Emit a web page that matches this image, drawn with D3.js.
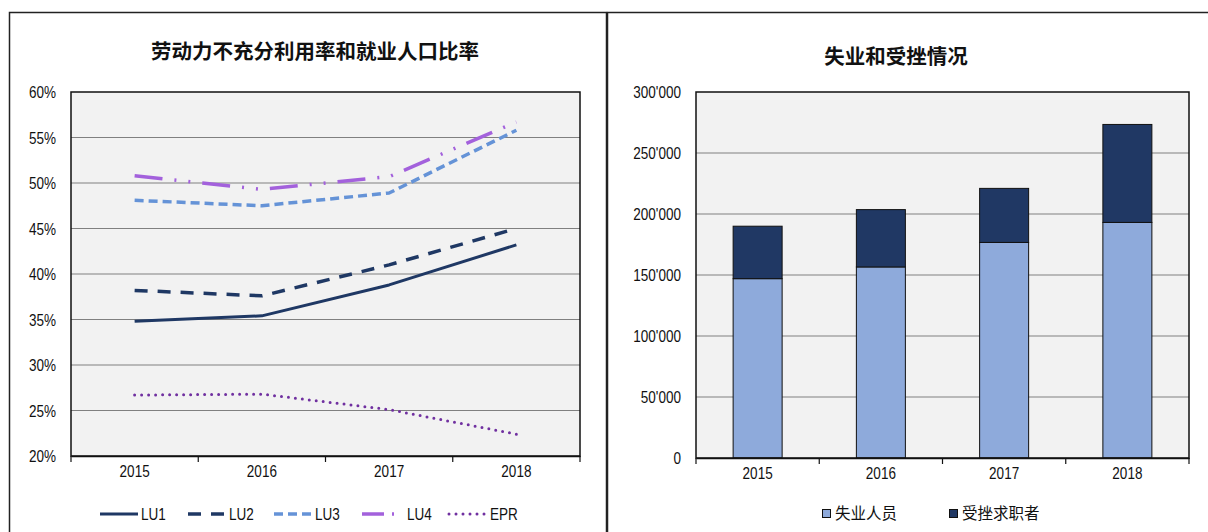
<!DOCTYPE html>
<html><head><meta charset="utf-8">
<script src="https://cdn.jsdelivr.net/npm/d3@7/dist/d3.min.js"></script>
<style>
body{margin:0;background:#fff;}
svg{display:block;font-family:"Liberation Sans",Arial,sans-serif;}
.cjk{font-family:"Noto Sans CJK SC","Noto Sans",sans-serif;}
</style></head>
<body><svg id="c" width="1208" height="532"></svg>
<script>
const years = ["2015","2016","2017","2018"];
const lu1 = [34.8,35.4,38.8,43.2];
const lu2 = [38.2,37.6,41.0,45.0];
const lu3 = [48.1,47.5,48.9,55.8];
const lu4 = [50.8,49.3,50.7,56.7];
const epr = [26.7,26.8,25.1,22.4];
const pctTicks = [20,25,30,35,40,45,50,55,60];
const unemployed = [147000,156600,176700,193100];
const discouraged = [43000,47000,44300,80300];
const countTicks = [0,50000,100000,150000,200000,250000,300000];
const leftTitle = "劳动力不充分利用率和就业人口比率";
const rightTitle = "失业和受挫情况";
const barNames = ["失业人员","受挫求职者"];

const svg = d3.select("#c");
const navy="#1f3864", lblue="#6593d7", lpurple="#a361dc", dpurple="#7030a0";
const barLight="#8eaadb";
const FS = 16.5, SX = 0.82;

function narrow(sel){
  sel.each(function(){
    const t = d3.select(this);
    const x = +(t.attr("x")||0), y = +(t.attr("y")||0);
    t.attr("x",0).attr("y",0).attr("transform",`translate(${x},${y}) scale(${SX},1)`);
  });
}

// frames
svg.append("rect").attr("x",9.5).attr("y",12.5).attr("width",597).attr("height",540)
  .attr("fill","none").attr("stroke","#222").attr("stroke-width",1.5);
svg.append("rect").attr("x",607.5).attr("y",12.5).attr("width",620).attr("height",540)
  .attr("fill","none").attr("stroke","#222").attr("stroke-width",1.5);

// ---------- LEFT CHART ----------
const L = {x0:71,x1:580,y0:92,y1:456};
const xL = d3.scaleBand().domain(years).range([L.x0,L.x1]);
const yL = d3.scaleLinear().domain([20,60]).range([L.y1,L.y0]);
const gL = svg.append("g");
gL.append("rect").attr("x",L.x0).attr("y",L.y0).attr("width",L.x1-L.x0).attr("height",L.y1-L.y0).attr("fill","#f2f2f2");
gL.selectAll("line.grid").data(pctTicks.slice(1,-1)).join("line")
  .attr("x1",L.x0).attr("x2",L.x1).attr("y1",d=>yL(d)).attr("y2",d=>yL(d))
  .attr("stroke","#808080").attr("stroke-width",1);
gL.append("rect").attr("x",L.x0).attr("y",L.y0).attr("width",L.x1-L.x0).attr("height",L.y1-L.y0)
  .attr("fill","none").attr("stroke","#111").attr("stroke-width",1.5);
gL.selectAll("text.yl").data(pctTicks).join("text").attr("class","yl")
  .attr("x",56).attr("y",d=>yL(d)+6).attr("text-anchor","end")
  .attr("font-size",FS).attr("fill","#111").text(d=>d+"%").call(narrow);
const axg = gL.append("g").attr("transform",`translate(0,${L.y1})`).call(d3.axisBottom(xL).tickSize(0).tickPadding(9));
axg.select(".domain").attr("stroke","#111").attr("stroke-width",1.5);
axg.selectAll("text").attr("font-size",FS).attr("fill","#111").attr("font-family","Liberation Sans, Arial, sans-serif").call(narrow);
const bL = years.map(y=>xL(y)).concat([L.x1]);
gL.selectAll("line.tk").data(bL).join("line")
  .attr("x1",d=>d).attr("x2",d=>d).attr("y1",L.y1).attr("y2",L.y1+6).attr("stroke","#111").attr("stroke-width",1.2);

const series = [
  {name:"LU1",vals:lu1,color:navy,dash:null,w:3,cap:"butt"},
  {name:"LU2",vals:lu2,color:navy,dash:"13 10",w:3.5,cap:"butt"},
  {name:"LU3",vals:lu3,color:lblue,dash:"9 5",w:3.5,cap:"butt"},
  {name:"LU4",vals:lu4,color:lpurple,dash:"28 12 2 12 2 12",w:3.5,cap:"butt"},
  {name:"EPR",vals:epr,color:dpurple,dash:"0 7",w:3,cap:"round"}
];
const line = d3.line().x((d,i)=>xL(years[i])+xL.bandwidth()/2).y(d=>yL(d));
series.forEach(s=>{
  gL.append("path").attr("d",line(s.vals)).attr("fill","none").attr("stroke",s.color)
    .attr("stroke-width",s.w).attr("stroke-dasharray",s.dash).attr("stroke-linecap",s.cap)
    .attr("stroke-linejoin","round");
});
gL.append("text").attr("class","cjk").attr("x",315).attr("y",59).attr("text-anchor","middle")
  .attr("font-size",20.5).attr("font-weight","bold").attr("fill","#111").text(leftTitle);
const legX = [100,188,274,362,449];
const legDash = ["13 10","13 10","9 5","22 8 2 8","0 7"];
series.forEach((s,i)=>{
  const lx = legX[i], ly=514;
  gL.append("line").attr("x1",lx).attr("x2",lx+(i===3?40:38)).attr("y1",ly).attr("y2",ly)
    .attr("stroke",s.color).attr("stroke-width",s.w).attr("stroke-dasharray",i===0?null:legDash[i])
    .attr("stroke-linecap",s.cap);
  gL.append("text").attr("x",lx+(i===3?45:41)).attr("y",ly+6).attr("font-size",FS).attr("fill","#111").text(s.name).call(narrow);
});

// ---------- RIGHT CHART ----------
const R = {x0:696,x1:1189,y0:92,y1:458};
const xRb = d3.scaleBand().domain(years).range([R.x0,R.x1]);
const yR = d3.scaleLinear().domain([0,300000]).range([R.y1,R.y0]);
const gR = svg.append("g");
gR.append("rect").attr("x",R.x0).attr("y",R.y0).attr("width",R.x1-R.x0).attr("height",R.y1-R.y0).attr("fill","#f2f2f2");
gR.selectAll("line.grid").data(countTicks.slice(1,-1)).join("line")
  .attr("x1",R.x0).attr("x2",R.x1).attr("y1",d=>yR(d)).attr("y2",d=>yR(d))
  .attr("stroke","#808080").attr("stroke-width",1);
const loc = d3.formatLocale({decimal:".",thousands:"'",grouping:[3],currency:["",""]});
const fmt = loc.format(",");
gR.selectAll("text.yl").data(countTicks).join("text").attr("class","yl")
  .attr("x",681).attr("y",d=>yR(d)+6).attr("text-anchor","end")
  .attr("font-size",FS).attr("fill","#111").text(d=>fmt(d)).call(narrow);
const table = years.map((y,i)=>({year:y,a:unemployed[i],b:discouraged[i]}));
const stack = d3.stack().keys(["a","b"])(table);
const cols = [barLight,"#203864"];
const bw = 49;
stack.forEach((layer,k)=>{
  gR.selectAll("rect.b"+k).data(layer).join("rect").attr("class","b"+k)
    .attr("x",d=>xRb(d.data.year)+xRb.bandwidth()/2-bw/2).attr("width",bw)
    .attr("y",d=>yR(d[1])).attr("height",d=>yR(d[0])-yR(d[1]))
    .attr("fill",cols[k]).attr("stroke","#111").attr("stroke-width",1);
});
gR.append("rect").attr("x",R.x0).attr("y",R.y0).attr("width",R.x1-R.x0).attr("height",R.y1-R.y0)
  .attr("fill","none").attr("stroke","#111").attr("stroke-width",1.5);
const axR = gR.append("g").attr("transform",`translate(0,${R.y1})`).call(d3.axisBottom(xRb).tickSize(0).tickPadding(9));
axR.select(".domain").attr("stroke","#111").attr("stroke-width",1.5);
axR.selectAll("text").attr("font-size",FS).attr("fill","#111").attr("font-family","Liberation Sans, Arial, sans-serif").call(narrow);
const bR = years.map(y=>xRb(y)).concat([R.x1]);
gR.selectAll("line.tk").data(bR).join("line")
  .attr("x1",d=>d).attr("x2",d=>d).attr("y1",R.y1).attr("y2",R.y1+6).attr("stroke","#111").attr("stroke-width",1.2);
gR.append("text").attr("class","cjk").attr("x",896).attr("y",64).attr("text-anchor","middle")
  .attr("font-size",20.5).attr("font-weight","bold").attr("fill","#111").text(rightTitle);
const legRX = [822,949];
barNames.forEach((n,i)=>{
  gR.append("rect").attr("x",legRX[i]+0.5).attr("y",509.5).attr("width",8).attr("height",8)
    .attr("fill",cols[i]).attr("stroke","#111").attr("stroke-width",1);
  gR.append("text").attr("class","cjk").attr("x",legRX[i]+13).attr("y",519).attr("font-size",15.5)
    .attr("fill","#111").text(n);
});
</script></body></html>
